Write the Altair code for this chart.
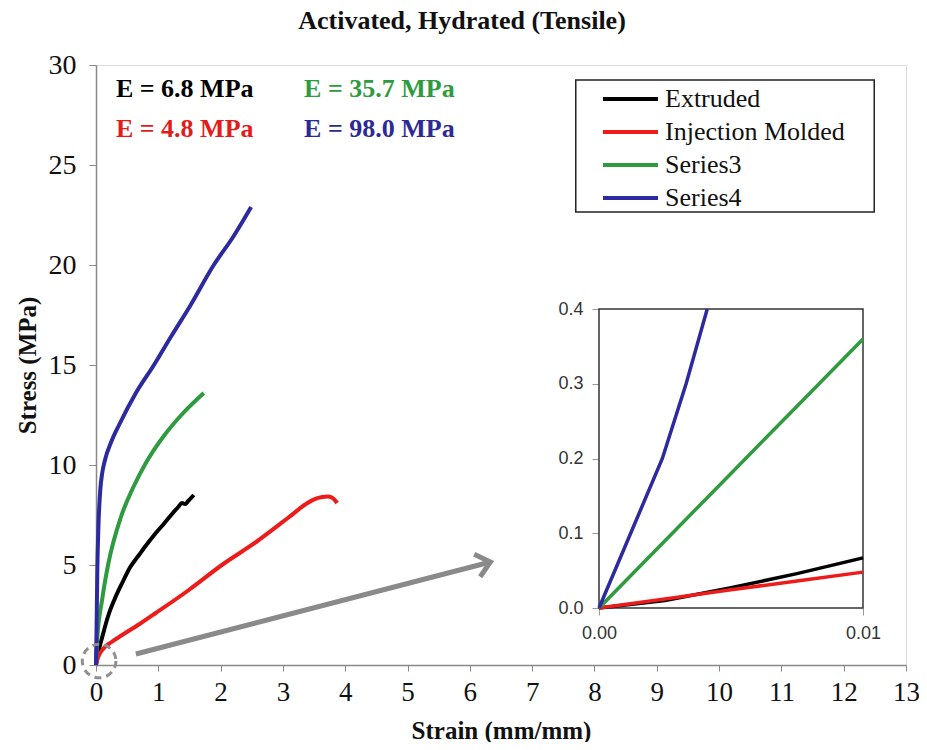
import altair as alt
import pandas as pd

SERIES = ["Extruded", "Injection Molded", "Series3", "Series4"]
COLORS = ["#000000", "#ee1b1b", "#2e9b3f", "#2d2a9f"]

# main curves (strain mm/mm, stress MPa)
ext_x = [0, 0.02, 0.05, 0.1, 0.2, 0.3, 0.42, 0.55, 0.69, 0.82, 0.96, 1.1, 1.22, 1.32, 1.38, 1.43, 1.48, 1.57]
ext_y = [0, 0.35, 0.8, 1.4, 2.5, 3.3, 4.1, 4.9, 5.5, 6.05, 6.6, 7.1, 7.55, 7.9, 8.1, 8.05, 8.2, 8.5]

inj_x = [0, 0.03, 0.1, 0.25, 0.42, 0.7, 0.96, 1.49, 2.02, 2.57, 3.1, 3.37, 3.5, 3.63, 3.72, 3.79, 3.84, 3.87]
inj_y = [0, 0.35, 0.75, 1.15, 1.5, 2.05, 2.6, 3.75, 5.0, 6.15, 7.4, 8.05, 8.28, 8.4, 8.42, 8.36, 8.22, 8.1]

s3_x = [0, 0.02, 0.1, 0.2, 0.4, 0.6, 0.8, 1.1, 1.4, 1.73]
s3_y = [0, 1.3, 3.3, 5.1, 7.4, 8.9, 10.1, 11.5, 12.6, 13.6]

s4_x = [0, 0.005, 0.01, 0.02, 0.04, 0.07, 0.1, 0.14, 0.25, 0.37, 0.64, 0.93, 1.2, 1.5, 1.89, 2.2, 2.49]
s4_y = [0, 1.0, 2.0, 4.5, 7.0, 8.8, 9.6, 10.2, 11.2, 12.0, 13.6, 15.0, 16.4, 17.9, 20.0, 21.4, 22.9]

# inset curves (first 0.01 mm/mm)
in_ext_x = [0, 0.0025, 0.005, 0.0075, 0.01]
in_ext_y = [0, 0.010, 0.027, 0.046, 0.067]
in_inj_x = [0, 0.0025, 0.005, 0.0075, 0.01]
in_inj_y = [0, 0.012, 0.0245, 0.036, 0.048]
in_s3_x = [0, 0.0025, 0.005, 0.0075, 0.01]
in_s3_y = [0, 0.09, 0.18, 0.27, 0.36]
in_s4_x = [0, 0.0012, 0.0024, 0.0033, 0.0041]
in_s4_y = [0, 0.1, 0.2, 0.3, 0.4]

# modulus annotations
ann_text = ["E = 6.8 MPa", "E = 4.8 MPa", "E = 35.7 MPa", "E = 98.0 MPa"]
ann_x = [0.32, 0.32, 3.34, 3.34]
ann_y = [28.4, 26.4, 28.4, 26.4]
ann_col = ["#000000", "#e31b1b", "#2e9b3f", "#2b2a96"]

# zoom arrow
arrow_x = [0.64, 6.33]
arrow_y = [0.55, 5.15]

x_ticks = list(range(0, 14))
y_ticks = [0, 5, 10, 15, 20, 25, 30]
inset_x_ticks = [0, 0.01]
inset_y_ticks = [0, 0.1, 0.2, 0.3, 0.4]


def frame(names, xs, ys):
    rows = []
    for n, xa, ya in zip(names, xs, ys):
        for i, (a, b) in enumerate(zip(xa, ya)):
            rows.append({"series": n, "x": a, "y": b, "i": i})
    return pd.DataFrame(rows)


main_df = frame(SERIES, [ext_x, inj_x, s3_x, s4_x], [ext_y, inj_y, s3_y, s4_y])
inset_df = frame(SERIES, [in_ext_x, in_inj_x, in_s3_x, in_s4_x], [in_ext_y, in_inj_y, in_s3_y, in_s4_y])
ann_df = pd.DataFrame({"t": ann_text, "x": ann_x, "y": ann_y, "c": ann_col})
arrow_df = pd.DataFrame({"x": arrow_x, "y": arrow_y, "i": [0, 1]})
head_df = pd.DataFrame({"x": [arrow_x[1]], "y": [arrow_y[1]]})
circ_df = pd.DataFrame({"x": [0.05], "y": [0.2]})
legbox_df = pd.DataFrame({"x": [7.70], "x2": [12.49], "y": [22.65], "y2": [29.25]})

W, H = 810, 600
SERIF = "Liberation Serif"
SANS = "Liberation Sans"

XS = alt.Scale(domain=[0, 13], nice=False, zero=False)
YS = alt.Scale(domain=[0, 30], nice=False)

x_axis = alt.Axis(values=x_ticks, format="d", title="Strain (mm/mm)", grid=False,
                  labelFont=SERIF, labelFontSize=27, labelColor="#111", labelPadding=8,
                  tickSize=6, tickColor="#888", domainColor="#888", domainWidth=1.5,
                  titleFont=SERIF, titleFontSize=25, titleFontWeight="bold", titleColor="#111",
                  titlePadding=13, labelFlush=False)
y_axis = alt.Axis(values=y_ticks, format="d", title="Stress (MPa)", grid=False,
                  labelFont=SERIF, labelFontSize=28, labelColor="#111", labelPadding=13,
                  tickSize=7, tickColor="#888", domainColor="#888", domainWidth=1.5,
                  titleFont=SERIF, titleFontSize=25, titleFontWeight="bold", titleColor="#111",
                  titlePadding=8, labelFlush=False)

X = alt.X("x:Q", scale=XS, axis=x_axis)
Y = alt.Y("y:Q", scale=YS, axis=y_axis)

legend = alt.Legend(title=None, orient="none", legendX=494, legendY=21,
                    symbolType="M0,0L5,0", symbolSize=484, symbolStrokeWidth=4,
                    labelFont=SERIF, labelFontSize=26, labelColor="#111",
                    labelOffset=49, rowPadding=7, padding=0, labelLimit=400)

legbox = alt.Chart(legbox_df).mark_rect(fill="white", stroke="#222", strokeWidth=1.5).encode(
    x=alt.X("x:Q", scale=XS, axis=x_axis), x2="x2:Q",
    y=alt.Y("y:Q", scale=YS, axis=y_axis), y2="y2:Q")

lines = alt.Chart(main_df).mark_line(strokeWidth=4, interpolate="monotone").encode(
    x=X, y=Y,
    color=alt.Color("series:N", scale=alt.Scale(domain=SERIES, range=COLORS), legend=legend),
    order="i:Q")

ann = alt.Chart(ann_df).mark_text(font=SERIF, fontSize=26, fontWeight="bold",
                                  align="left", baseline="alphabetic").encode(
    x=X, y=Y, text="t:N", color=alt.Color("c:N", scale=None))

shaft = alt.Chart(arrow_df).mark_line(color="#8a8a8a", strokeWidth=5).encode(x=X, y=Y, order="i:Q")
head = alt.Chart(head_df).mark_point(shape="M-1,-0.85L0,0L-1,0.85", size=750, filled=False,
                                     stroke="#8a8a8a", strokeWidth=5, angle=345,
                                     strokeJoin="miter", opacity=1).encode(x=X, y=Y)
circ = alt.Chart(circ_df).mark_point(shape="circle", size=1134, filled=False, stroke="#909090",
                                     strokeWidth=3, strokeDash=[7, 5], opacity=1).encode(x=X, y=Y)

main = alt.layer(legbox, lines, shaft, head, circ, ann)

# inset
IXS = alt.Scale(domain=[0, 0.01], range=[503, 767], nice=False, zero=False)
IYS = alt.Scale(domain=[0, 0.4], range=[543, 244], nice=False)
ix_axis = alt.Axis(orient="bottom", offset=-57, values=inset_x_ticks, format=".2f", title=None,
                   grid=False, domain=False, labelFont=SANS, labelFontSize=18, labelColor="#333",
                   tickSize=7, tickColor="#999", labelPadding=9, labelFlush=False)
iy_axis = alt.Axis(orient="left", offset=-503, values=inset_y_ticks, format=".1f", title=None,
                   grid=False, domain=False, labelFont=SANS, labelFontSize=18, labelColor="#333",
                   tickSize=7, tickColor="#999", labelPadding=9, labelFlush=False)
inset_box_df = pd.DataFrame({"x": [0.0], "x2": [0.01], "y": [0.0], "y2": [0.4]})
ibox = alt.Chart(inset_box_df).mark_rect(fill="white", stroke="#333", strokeWidth=1.5).encode(
    x=alt.X("x:Q", scale=IXS, axis=ix_axis), x2="x2:Q",
    y=alt.Y("y:Q", scale=IYS, axis=iy_axis), y2="y2:Q")
ilines = alt.Chart(inset_df).mark_line(strokeWidth=3.5).encode(
    x=alt.X("x:Q", scale=IXS, axis=ix_axis),
    y=alt.Y("y:Q", scale=IYS, axis=iy_axis),
    color=alt.Color("series:N", scale=alt.Scale(domain=SERIES, range=COLORS), legend=None),
    order="i:Q")
inset = alt.layer(ibox, ilines)

chart = alt.layer(main, inset).resolve_scale(x="independent", y="independent", color="independent").properties(
    width=W, height=H,
    autosize=alt.AutoSizeParams(type="none"),
    padding={"left": 88, "top": 57, "right": 13, "bottom": 77},
    title=alt.TitleParams("Activated, Hydrated (Tensile)", font=SERIF, fontSize=26, fontWeight="bold",
                          color="#111", anchor="middle", dx=-39, offset=-4, baseline="alphabetic"),
).configure_view(stroke="#444", strokeWidth=1.5).configure_legend(
    labelFont=SERIF, labelFontSize=26, labelColor="#111"
).configure(background="white")

chart.save("out.html", embed_options={"renderer": "svg", "actions": False})
